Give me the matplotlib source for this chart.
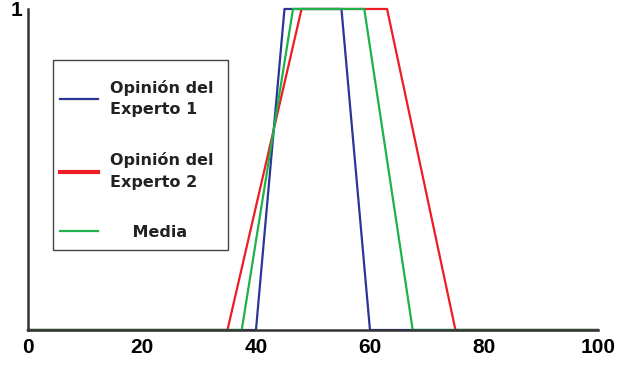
import matplotlib
matplotlib.use("Agg")
import matplotlib.pyplot as plt
from matplotlib.patches import Rectangle

plt.rcParams['font.family'] = ['Liberation Sans', 'DejaVu Sans']

# trapezoid vertices (x) and membership (y)
x_exp1 = [0, 40, 45, 55, 60, 100]
x_exp2 = [0, 35, 48, 63, 75, 100]
x_media = [0, 37.5, 46.5, 59, 67.5, 100]
y_trap = [0, 0, 1, 1, 0, 0]

labels = ["Opinión del\nExperto 1", "Opinión del\nExperto 2", "    Media"]
x_ticks = [0, 20, 40, 60, 80, 100]

fig = plt.figure(figsize=(6.19, 3.65), dpi=100)
ax = fig.add_axes([0.0452, 0.0959, 0.9208, 0.8795])

ax.plot(x_exp1, y_trap, color="#2b3595", lw=1.6, clip_on=False, zorder=2.1)
ax.plot(x_exp2, y_trap, color="#ee1c25", lw=1.6, clip_on=False, zorder=2.0)
ax.plot(x_media, y_trap, color="#1fb14a", lw=1.6, clip_on=False, zorder=2.2)

ax.set_xlim(0, 100)
ax.set_ylim(0, 1)
ax.set_xticks(x_ticks)
ax.set_xticklabels([str(t) for t in x_ticks], fontsize=15, fontweight="bold")
ax.set_yticks([1])
ax.set_yticklabels(["1"], fontsize=15, fontweight="bold")
ax.tick_params(length=0, pad=6)
ax.tick_params(axis="y", pad=4)
for s in ["top", "right"]:
    ax.spines[s].set_visible(False)
for s in ["left", "bottom"]:
    ax.spines[s].set_linewidth(1.8)
    ax.spines[s].set_color("#333333")
    ax.spines[s].set_zorder(5)

# legend box drawn separately so padding can differ left/top
ax.add_patch(Rectangle((0.044, 0.249), 0.307, 0.592, transform=ax.transAxes,
                       fill=False, edgecolor="#444444", lw=1.0))

h1 = plt.Line2D([], [], color="#2b3595", lw=1.6)
h2 = plt.Line2D([], [], color="#ee1c25", lw=3.0)
h3 = plt.Line2D([], [], color="#1fb14a", lw=1.6)
leg = ax.legend([h1, h2, h3], labels, loc="upper left",
                bbox_to_anchor=(0.056, 0.78), frameon=False,
                handlelength=2.4, labelspacing=2.2, borderpad=0,
                borderaxespad=0, handletextpad=0.75,
                prop={"family": "DejaVu Sans", "size": 11.5, "weight": "bold"})
for t in leg.get_texts():
    t.set_linespacing(1.55)
    t.set_color("#222222")

fig.savefig("out.png", dpi=100)
